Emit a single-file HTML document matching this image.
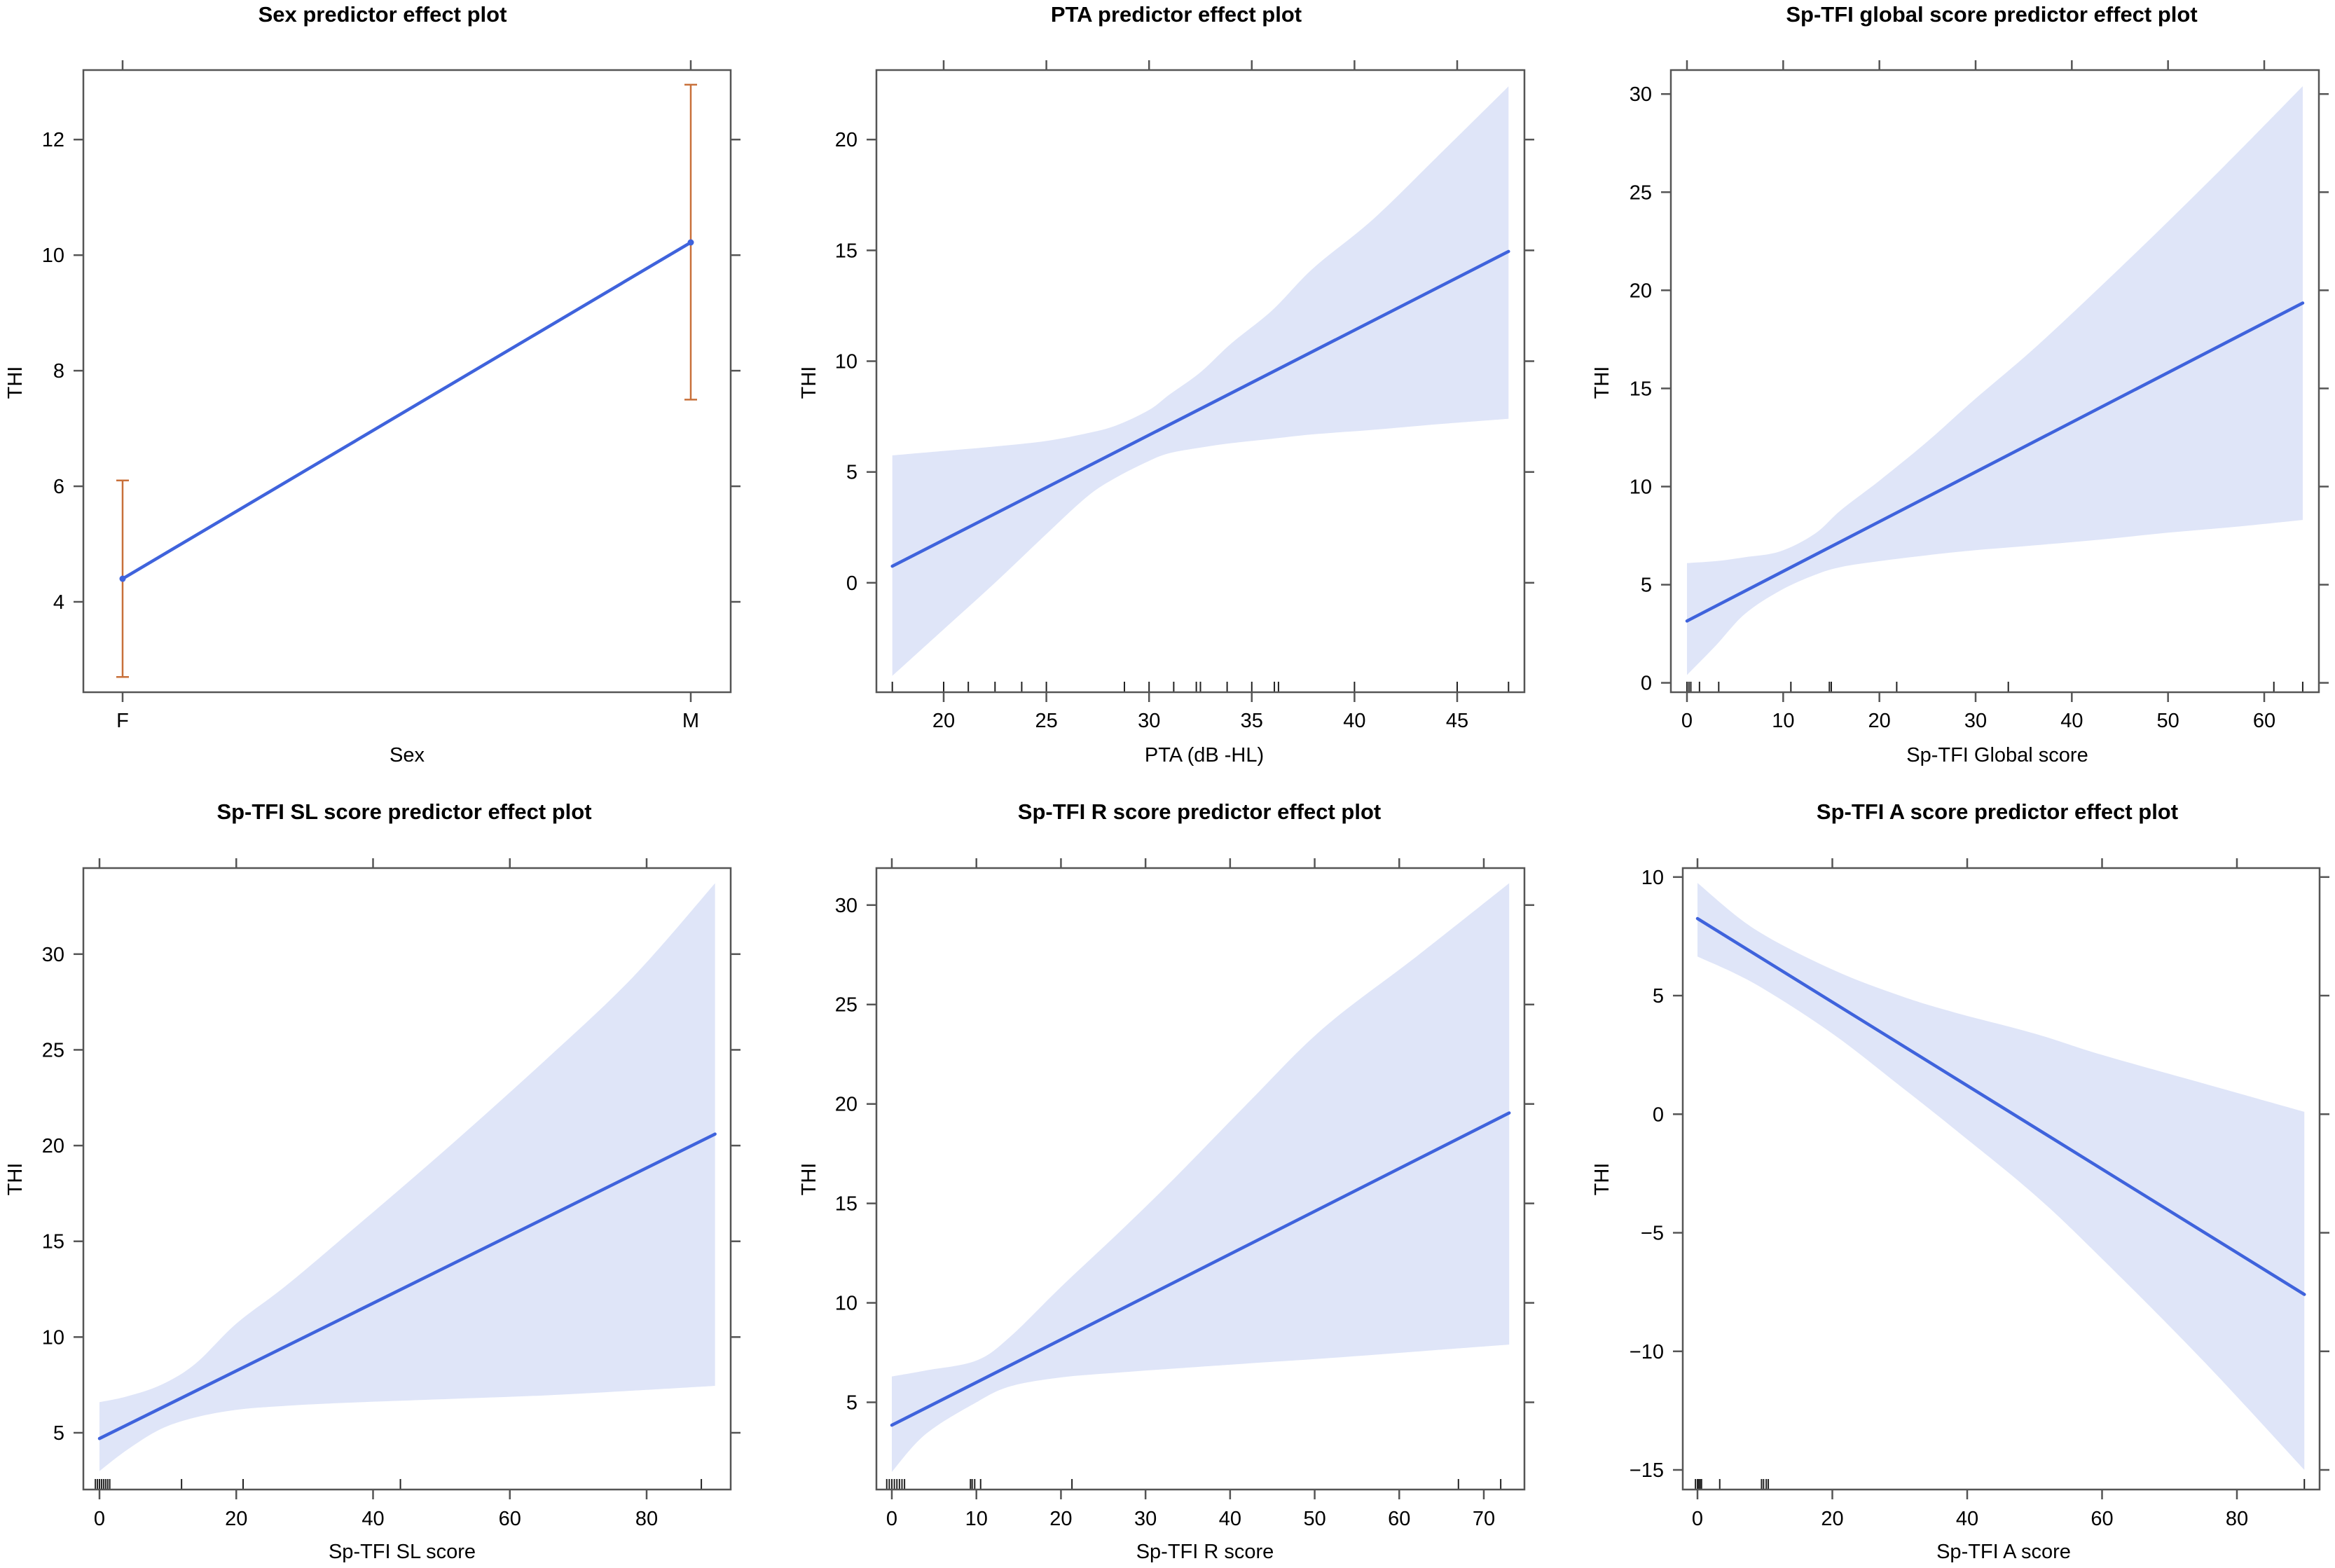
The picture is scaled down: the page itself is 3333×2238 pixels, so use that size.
<!DOCTYPE html>
<html><head><meta charset="utf-8">
<style>
html,body{margin:0;padding:0;background:#fff;}
svg{display:block;font-family:"Liberation Sans",Arial,sans-serif;}
</style></head>
<body>
<svg id="chart" width="3333" height="2238" viewBox="0 0 3333 2238" xmlns="http://www.w3.org/2000/svg"></svg>
<script>
// ---- Panel 1: Sex ----
const sexCategories = ["F","M"];
const sexFit = [4.4, 10.22];
const sexLower = [2.7, 7.5];
const sexUpper = [6.1, 12.95];
const sexYTicks = [4,6,8,10,12];

// ---- Panel 2: PTA ----
const ptaBandX = [17.5,20,22.5,25,27,28.4,30,31,32.5,34,36,38,40.9,44,47.5];
const ptaUpper = [5.75,5.95,6.15,6.4,6.75,7.1,7.8,8.5,9.5,10.8,12.3,14.2,16.4,19.2,22.4];
const ptaLower = [-4.2,-2.1,0.0,2.2,3.9,4.75,5.5,5.85,6.1,6.3,6.5,6.7,6.9,7.15,7.4];
const ptaLineX = [17.5,47.5];
const ptaLineY = [0.75,14.95];
const ptaRug = [17.5,20,21.2,22.5,23.8,25,28.8,30,31.2,32.3,32.5,33.8,35,36.1,36.3,40,45,47.5];
const ptaXTicks = [20,25,30,35,40,45];
const ptaYTicks = [0,5,10,15,20];

// ---- Panel 3: Sp-TFI global ----
const gloBandX = [0,3,6,9.7,13.3,16,20,25,29.8,36,43,50,57,64];
const gloUpper = [6.1,6.2,6.4,6.7,7.6,8.8,10.3,12.3,14.4,17.0,20.2,23.5,26.9,30.4];
const gloLower = [0.4,1.9,3.5,4.7,5.5,5.9,6.2,6.5,6.75,7.0,7.3,7.65,7.95,8.3];
const gloLineX = [0,64];
const gloLineY = [3.15,19.35];
const gloRug = [0,0.2,0.4,1.3,3.3,10.8,14.8,15,21.8,33.4,61,64];
const gloXTicks = [0,10,20,30,40,50,60];
const gloYTicks = [0,5,10,15,20,25,30];

// ---- Panel 4: Sp-TFI SL ----
const slBandX = [0,4,9,14,20,27,35,50,65,78,90];
const slUpper = [6.6,6.9,7.5,8.6,10.7,12.6,15.0,19.6,24.4,28.8,33.7];
const slLower = [3.0,4.1,5.2,5.8,6.2,6.4,6.55,6.75,6.95,7.2,7.45];
const slLineX = [0,90];
const slLineY = [4.7,20.6];
const slRug = [-0.6,-0.3,0,0.3,0.6,0.9,1.2,1.5,12,21,44,88];
const slXTicks = [0,20,40,60,80];
const slYTicks = [5,10,15,20,25,30];

// ---- Panel 5: Sp-TFI R ----
const rBandX = [0,4,10,14,20,27,33.5,42,51,62,73];
const rUpper = [6.3,6.6,7.1,8.3,10.8,13.6,16.3,20.0,23.8,27.4,31.1];
const rLower = [1.5,3.4,5.0,5.8,6.25,6.5,6.7,6.95,7.2,7.55,7.9];
const rLineX = [0,73];
const rLineY = [3.85,19.55];
const rRug = [-0.6,-0.3,0,0.3,0.6,0.9,1.2,1.5,9.3,9.5,9.8,10.5,21.3,67,72];
const rXTicks = [0,10,20,30,40,50,60,70];
const rYTicks = [5,10,15,20,25,30];

// ---- Panel 6: Sp-TFI A ----
const aBandX = [0,8.5,20,30,38,50,60,75,90];
const aUpper = [9.75,7.8,6.1,5.0,4.3,3.4,2.5,1.3,0.1];
const aLower = [6.65,5.5,3.4,1.2,-0.6,-3.4,-6.1,-10.4,-15.0];
const aLineX = [0,90];
const aLineY = [8.25,-7.6];
const aRug = [-0.3,0,0.2,0.4,0.6,3.3,9.5,9.8,10.2,10.5,90];
const aXTicks = [0,20,40,60,80];
const aYTicks = [-15,-10,-5,0,5,10];

const NS = "http://www.w3.org/2000/svg";
const svg = document.getElementById("chart");
function mk(tag, attrs, parent, text){
  const e = document.createElementNS(NS, tag);
  for (const k in attrs) e.setAttribute(k, attrs[k]);
  if (text !== undefined) e.textContent = text;
  (parent||svg).appendChild(e);
  return e;
}
function linScale(d0,d1,r0,r1){ return v => r0 + (v-d0)*(r1-r0)/(d1-d0); }

// Catmull-Rom smooth path segment through points (continuing path)
function smooth(pts){
  let d = "";
  for (let i=0;i<pts.length-1;i++){
    const p0 = pts[Math.max(0,i-1)], p1 = pts[i], p2 = pts[i+1], p3 = pts[Math.min(pts.length-1,i+2)];
    const c1x = p1[0] + (p2[0]-p0[0])/6, c1y = p1[1] + (p2[1]-p0[1])/6;
    const c2x = p2[0] - (p3[0]-p1[0])/6, c2y = p2[1] - (p3[1]-p1[1])/6;
    d += ` C${c1x},${c1y} ${c2x},${c2y} ${p2[0]},${p2[1]}`;
  }
  return d;
}

const BAND="#dfe5f8", LINE="#3f63dc", AX="#555", TL=14, FS=29;

function frame(g, p){
  const box = mk("rect",{x:p.L,y:p.T,width:p.R-p.L,height:p.B-p.T,fill:"none",stroke:AX,"stroke-width":2.5},g);
  
  
  const t = mk("text",{x:p.titleX,y:p.titleY+11,"text-anchor":"middle","font-size":31,"font-weight":"bold",fill:"#000"},g,p.title);
  
  
  const xl = mk("text",{x:p.xlabX,y:p.xlabY+10,"text-anchor":"middle","font-size":FS,fill:"#000"},g,p.xlab);
  
  
  const yl = mk("text",{x:0,y:0,"text-anchor":"middle","font-size":FS,fill:"#000",transform:`translate(${p.ylabX+10},${p.ylabY}) rotate(-90)`},g,"THI");
  
  
}
function xTicks(g,p,vals,labels,sx){
  vals.forEach((v,i)=>{
    const x = sx(v);
    const a = mk("line",{x1:x,x2:x,y1:p.B,y2:p.B+TL,stroke:AX,"stroke-width":2.5},g);
    
    
    const b = mk("line",{x1:x,x2:x,y1:p.T,y2:p.T-TL,stroke:AX,"stroke-width":2.5},g);
    
    
    const t = mk("text",{x:x,y:p.tickY+10,"text-anchor":"middle","font-size":FS,fill:"#000"},g,labels[i]);
    
    
  });
}
function yTicks(g,p,vals,sy){
  vals.forEach(v=>{
    const y = sy(v);
    const a = mk("line",{x1:p.L,x2:p.L-TL,y1:y,y2:y,stroke:AX,"stroke-width":2.5},g);
    
    
    const b = mk("line",{x1:p.R,x2:p.R+TL,y1:y,y2:y,stroke:AX,"stroke-width":2.5},g);
    
    
    const t = mk("text",{x:p.L-27,y:y+10,"text-anchor":"end","font-size":FS,fill:"#000"},g,String(v).replace("-","\u2212"));
    
    
  });
}

function contPanel(name,p,bx,up,lo,lx,ly,rug,xt,yt){
  const g = mk("g",{});
  
  
  const sx = linScale(p.xd[0],p.xd[1],p.xr[0],p.xr[1]);
  const sy = linScale(p.yd[0],p.yd[1],p.yr[0],p.yr[1]);
  const upPts = bx.map((x,i)=>[sx(x),sy(up[i])]);
  const loPts = bx.map((x,i)=>[sx(x),sy(lo[i])]).reverse();
  const d = `M${upPts[0][0]},${upPts[0][1]}` + smooth(upPts) + ` L${loPts[0][0]},${loPts[0][1]}` + smooth(loPts) + " Z";
  const band = mk("path",{d:d,fill:BAND,stroke:"none"},g);
  
  
  const ln = mk("line",{x1:sx(lx[0]),y1:sy(ly[0]),x2:sx(lx[1]),y2:sy(ly[1]),stroke:LINE,"stroke-width":4.5,"stroke-linecap":"round"},g);
  
  
  rug.forEach(v=>{
    const r = mk("line",{x1:sx(v),x2:sx(v),y1:p.B,y2:p.B-15,stroke:"#222","stroke-width":2},g);
    
    
  });
  frame(g,p);
  xTicks(g,p,xt,xt.map(String),sx);
  yTicks(g,p,yt,sy);
}

// Panel 1 (categorical)
(function(){
  const p = {L:119,R:1043,T:100,B:988,title:"Sex predictor effect plot",titleX:546,titleY:20,
    xlab:"Sex",xlabX:581,xlabY:1077,ylabX:21,ylabY:546,tickY:1028};
  const g = mk("g",{});
  
  
  const sx = i => 175 + i*(986-175);
  const sy = linScale(4,12,859,199.2);
  sexCategories.forEach((c,i)=>{
    const x = sx(i);
    const e = mk("line",{x1:x,x2:x,y1:sy(sexLower[i]),y2:sy(sexUpper[i]),stroke:"#c8703a","stroke-width":2.5},g);
    
    
    [sexLower[i],sexUpper[i]].forEach(v=>{
      const cap = mk("line",{x1:x-9,x2:x+9,y1:sy(v),y2:sy(v),stroke:"#c8703a","stroke-width":2.5},g);
      
      
    });
  });
  const ln = mk("line",{x1:sx(0),y1:sy(sexFit[0]),x2:sx(1),y2:sy(sexFit[1]),stroke:LINE,"stroke-width":4.5},g);
  
  
  sexCategories.forEach((c,i)=>{
    const d = mk("circle",{cx:sx(i),cy:sy(sexFit[i]),r:4.5,fill:LINE},g);
    
    
  });
  frame(g,p);
  xTicks(g,p,[0,1],sexCategories,sx);
  yTicks(g,p,sexYTicks,sy);
})();

contPanel("pta-panel",{L:1251,R:2176,T:100,B:988,title:"PTA predictor effect plot",titleX:1679,titleY:20,
  xlab:"PTA (dB -HL)",xlabX:1719,xlabY:1077,ylabX:1154,ylabY:546,tickY:1028,
  xd:[20,45],xr:[1347,2080],yd:[0,20],yr:[831.8,199.2]},
  ptaBandX,ptaUpper,ptaLower,ptaLineX,ptaLineY,ptaRug,ptaXTicks,ptaYTicks);

contPanel("global-panel",{L:2385,R:3310,T:100,B:988,title:"Sp-TFI global score predictor effect plot",titleX:2843,titleY:20,
  xlab:"Sp-TFI Global score",xlabX:2851,xlabY:1077,ylabX:2286,ylabY:546,tickY:1028,
  xd:[0,60],xr:[2408,3232],yd:[0,30],yr:[974.6,134.2]},
  gloBandX,gloUpper,gloLower,gloLineX,gloLineY,gloRug,gloXTicks,gloYTicks);

contPanel("sl-panel",{L:119,R:1043,T:1239,B:2126,title:"Sp-TFI SL score predictor effect plot",titleX:577,titleY:1158,
  xlab:"Sp-TFI SL score",xlabX:574,xlabY:2214,ylabX:21,ylabY:1683,tickY:2167,
  xd:[0,80],xr:[142,923],yd:[5,30],yr:[2045,1361.8]},
  slBandX,slUpper,slLower,slLineX,slLineY,slRug,slXTicks,slYTicks);

contPanel("r-panel",{L:1251,R:2176,T:1239,B:2126,title:"Sp-TFI R score predictor effect plot",titleX:1712,titleY:1158,
  xlab:"Sp-TFI R score",xlabX:1720,xlabY:2214,ylabX:1154,ylabY:1683,tickY:2167,
  xd:[0,70],xr:[1273,2118],yd:[5,30],yr:[2001.5,1291.8]},
  rBandX,rUpper,rLower,rLineX,rLineY,rRug,rXTicks,rYTicks);

contPanel("a-panel",{L:2402,R:3311,T:1239,B:2126,title:"Sp-TFI A score predictor effect plot",titleX:2851,titleY:1158,
  xlab:"Sp-TFI A score",xlabX:2860,xlabY:2214,ylabX:2286,ylabY:1683,tickY:2167,
  xd:[0,80],xr:[2423,3193],yd:[-15,10],yr:[2098,1251.8]},
  aBandX,aUpper,aLower,aLineX,aLineY,aRug,aXTicks,aYTicks);
</script>
</body></html>
